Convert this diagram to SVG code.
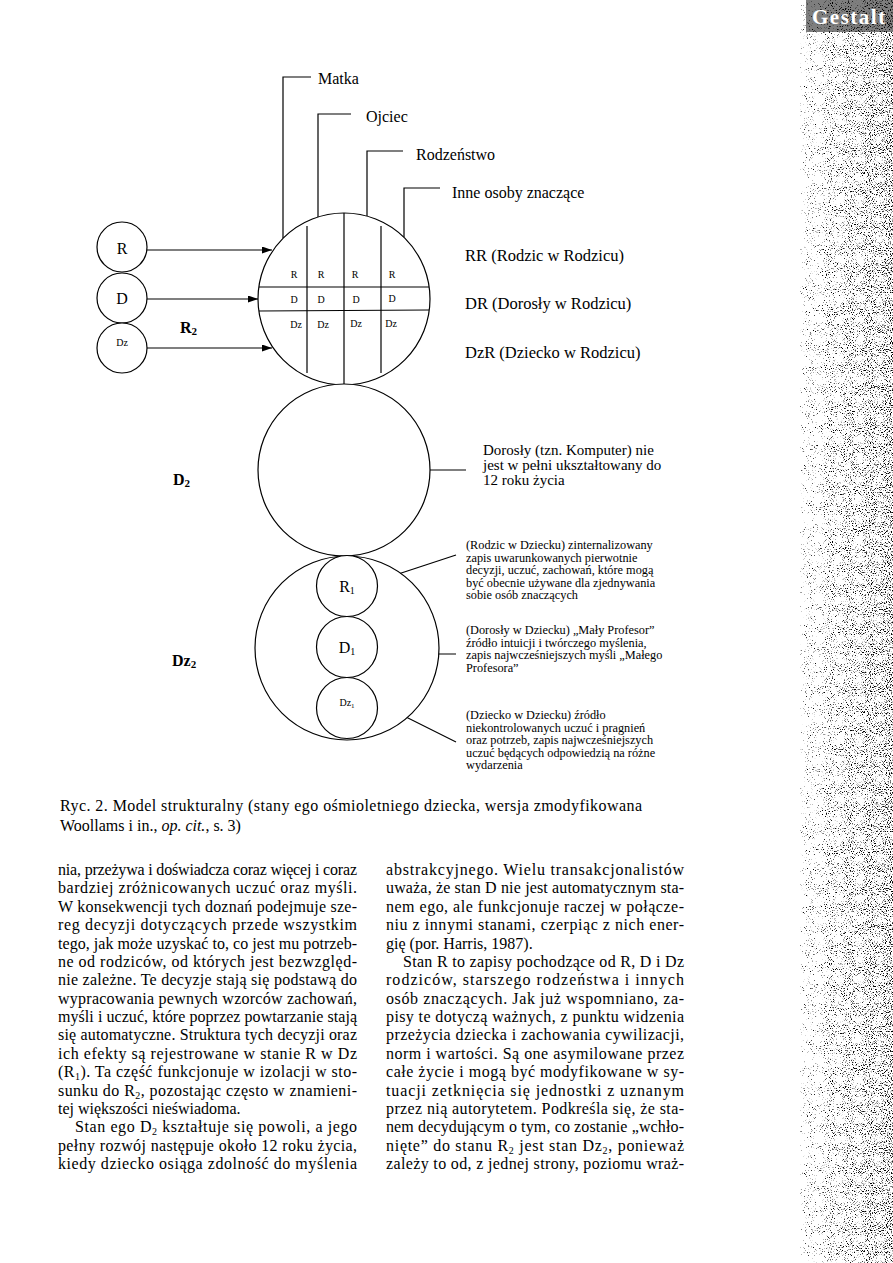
<svg xmlns="http://www.w3.org/2000/svg" width="893" height="1263" viewBox="0 0 893 1263">
<style>
.ln{stroke:#000;stroke-width:1.2;fill:none}
.c{stroke:#000;stroke-width:1.2;fill:#fff}
.t{font-family:"Liberation Serif","Times New Roman",serif;fill:#000}
.lab{font-size:16px}
.rl{font-size:16.5px}
.g{font-size:10px}
.ann{font-size:12.3px}
.d2t{font-size:15px}
.b{font-weight:bold;font-size:16px}
.body{font-size:16px}
.cap{font-size:16px}
</style>
<defs>
<marker id="ah" markerWidth="10" markerHeight="7" refX="10" refY="3.5" orient="auto" markerUnits="userSpaceOnUse">
<path d="M0,0 L10,3.5 L0,7 Z" fill="#000"/>
</marker>
<linearGradient id="stripG" x1="0" y1="0" x2="1" y2="0">
<stop offset="0" stop-color="#000" stop-opacity="0.33"/>
<stop offset="0.35" stop-color="#000" stop-opacity="0.41"/>
<stop offset="1" stop-color="#000" stop-opacity="0.47"/>
</linearGradient>
<filter id="speck" x="0" y="0" width="100%" height="100%" color-interpolation-filters="sRGB">
<feTurbulence type="fractalNoise" baseFrequency="0.95" numOctaves="2" seed="7" result="t"/>
<feColorMatrix in="t" type="matrix" values="0 0 0 0 0  0 0 0 0 0  0 0 0 0 0  1 0 0 0 0" result="n"/>
<feComposite in="SourceGraphic" in2="n" operator="arithmetic" k1="0" k2="6" k3="-6" k4="0"/>
</filter>
</defs>
<rect width="893" height="1263" fill="#fff"/>

<!-- scanned page edge strip -->
<g id="page-edge">
<rect x="800" y="0" width="93" height="1263" fill="url(#stripG)" filter="url(#speck)"/>
<rect x="806" y="0" width="87" height="32" fill="#000" opacity="0.5" filter="url(#speck)"/>
<text class="t" x="812" y="24" font-size="21" font-weight="bold" letter-spacing="1.5" style="fill:#fff">Gestalt</text>
</g>

<!-- connectors -->
<g id="connectors">
<path class="ln" d="M283,238 V77 H311"/>
<path class="ln" d="M318,217 V114 H351"/>
<path class="ln" d="M367,216 V151 H403"/>
<path class="ln" d="M404,237 V188 H440"/>
<line class="ln" x1="147" y1="250" x2="272" y2="250" marker-end="url(#ah)"/>
<line class="ln" x1="147" y1="299" x2="258" y2="299" marker-end="url(#ah)"/>
<line class="ln" x1="147" y1="348" x2="272" y2="348" marker-end="url(#ah)"/>
<line class="ln" x1="430" y1="470" x2="466" y2="470"/>
<line class="ln" x1="377" y1="581" x2="456" y2="555"/>
<line class="ln" x1="377" y1="654" x2="456" y2="654"/>
<line class="ln" x1="376" y1="702" x2="456" y2="742"/>
</g>

<!-- R2 : parent circle with grid -->
<g id="node-R2">
<circle class="c" cx="344" cy="299" r="86"/>
<line class="ln" x1="344" y1="213" x2="344" y2="385"/>
<line class="ln" x1="307" y1="226" x2="307" y2="373"/>
<line class="ln" x1="381" y1="226" x2="381" y2="373"/>
<line class="ln" x1="259" y1="287" x2="429" y2="287"/>
<line class="ln" x1="259" y1="311" x2="429" y2="310"/>
<g class="t g" text-anchor="middle">
<text x="294" y="278">R</text><text x="321" y="278">R</text><text x="355" y="278">R</text><text x="392" y="278">R</text>
<text x="294" y="303">D</text><text x="321" y="303">D</text><text x="356" y="303">D</text><text x="392" y="302">D</text>
<text x="296" y="328">Dz</text><text x="323" y="328">Dz</text><text x="356" y="327">Dz</text><text x="391" y="327">Dz</text>
</g>
<text class="t b" x="180" y="333">R<tspan font-size="11" dy="2">2</tspan></text>
</g>

<g id="node-R"><circle class="c" cx="122" cy="247" r="25"/><text class="t lab" x="122" y="254" text-anchor="middle">R</text></g>
<g id="node-D"><circle class="c" cx="122" cy="298" r="25"/><text class="t lab" x="122" y="304" text-anchor="middle">D</text></g>
<g id="node-Dz"><circle class="c" cx="122" cy="348" r="25"/><text class="t" font-size="10" x="122" y="346" text-anchor="middle">Dz</text></g>

<g id="labels-top" class="t lab">
<text x="318" y="84">Matka</text>
<text x="366" y="122">Ojciec</text>
<text x="416" y="160">Rodzeństwo</text>
<text x="452" y="198">Inne osoby znaczące</text>
</g>
<g id="labels-right" class="t rl">
<text x="465" y="261">RR (Rodzic w Rodzicu)</text>
<text x="465" y="309">DR (Dorosły w Rodzicu)</text>
<text x="465" y="358">DzR (Dziecko w Rodzicu)</text>
</g>

<!-- D2 -->
<g id="node-D2">
<circle class="c" cx="344" cy="470" r="86"/>
<text class="t b" x="173" y="485">D<tspan font-size="11" dy="2">2</tspan></text>
<g class="t d2t">
<text x="483" y="455">Dorosły (tzn. Komputer) nie</text>
<text x="483" y="470">jest w pełni ukształtowany do</text>
<text x="483" y="485">12 roku życia</text>
</g>
</g>

<!-- Dz2 -->
<g id="node-Dz2">
<circle class="c" cx="347" cy="648" r="92"/>
<text class="t b" x="172" y="666">Dz<tspan font-size="11" dy="2">2</tspan></text>
</g>
<g id="node-R1"><circle class="c" cx="347" cy="586" r="30.5"/><text class="t lab" x="347" y="592" text-anchor="middle">R<tspan font-size="10" dy="2">1</tspan></text></g>
<g id="node-D1"><circle class="c" cx="347" cy="647" r="30.5"/><text class="t lab" x="347" y="653" text-anchor="middle">D<tspan font-size="10" dy="2">1</tspan></text></g>
<g id="node-Dz1"><circle class="c" cx="347" cy="708" r="30.5"/><text class="t" font-size="10" x="347" y="706" text-anchor="middle">Dz<tspan font-size="7" dy="2">1</tspan></text></g>

<g id="annotations" class="t ann">
<text x="466" y="549">(Rodzic w Dziecku) zinternalizowany</text>
<text x="466" y="561.5">zapis uwarunkowanych pierwotnie</text>
<text x="466" y="574">decyzji, uczuć, zachowań, które mogą</text>
<text x="466" y="586.5">być obecnie używane dla zjednywania</text>
<text x="466" y="599">sobie osób znaczących</text>
<text x="466" y="634">(Dorosły w Dziecku) „Mały Profesor”</text>
<text x="466" y="646.5">źródło intuicji i twórczego myślenia,</text>
<text x="466" y="659">zapis najwcześniejszych myśli „Małego</text>
<text x="466" y="671.5">Profesora”</text>
<text x="466" y="719">(Dziecko w Dziecku) źródło</text>
<text x="466" y="731.5">niekontrolowanych uczuć i pragnień</text>
<text x="466" y="744">oraz potrzeb, zapis najwcześniejszych</text>
<text x="466" y="756.5">uczuć będących odpowiedzią na różne</text>
<text x="466" y="769">wydarzenia</text>
</g>

<g id="caption" class="t cap">
<text x="60" y="811" textLength="582" lengthAdjust="spacing">Ryc. 2. Model strukturalny (stany ego ośmioletniego dziecka, wersja zmodyfikowana</text>
<text x="60" y="831">Woollams i in., <tspan font-style="italic">op. cit.</tspan>, s. 3)</text>
</g>

<g id="body-left" class="t body">
<text x="58" y="875" textLength="299" lengthAdjust="spacing">nia, przeżywa i doświadcza coraz więcej i coraz</text>
<text x="58" y="893.4" textLength="299" lengthAdjust="spacing">bardziej zróżnicowanych uczuć oraz myśli.</text>
<text x="58" y="911.8" textLength="299" lengthAdjust="spacing">W konsekwencji tych doznań podejmuje sze-</text>
<text x="58" y="930.1" textLength="299" lengthAdjust="spacing">reg decyzji dotyczących przede wszystkim</text>
<text x="58" y="948.5" textLength="299" lengthAdjust="spacing">tego, jak może uzyskać to, co jest mu potrzeb-</text>
<text x="58" y="966.9" textLength="299" lengthAdjust="spacing">ne od rodziców, od których jest bezwzględ-</text>
<text x="58" y="985.3" textLength="299" lengthAdjust="spacing">nie zależne. Te decyzje stają się podstawą do</text>
<text x="58" y="1003.6" textLength="299" lengthAdjust="spacing">wypracowania pewnych wzorców zachowań,</text>
<text x="58" y="1022" textLength="299" lengthAdjust="spacing">myśli i uczuć, które poprzez powtarzanie stają</text>
<text x="58" y="1040.4" textLength="299" lengthAdjust="spacing">się automatyczne. Struktura tych decyzji oraz</text>
<text x="58" y="1058.8" textLength="299" lengthAdjust="spacing">ich efekty są rejestrowane w stanie R w Dz</text>
<text x="58" y="1077.1" textLength="299" lengthAdjust="spacing">(R<tspan font-size="10" dy="3">1</tspan><tspan dy="-3">). Ta część funkcjonuje w izolacji w sto-</tspan></text>
<text x="58" y="1095.5" textLength="299" lengthAdjust="spacing">sunku do R<tspan font-size="10" dy="3">2</tspan><tspan dy="-3">, pozostając często w znamieni-</tspan></text>
<text x="58" y="1113.9">tej większości nieświadoma.</text>
<text x="75" y="1132.3" textLength="282" lengthAdjust="spacing">Stan ego D<tspan font-size="10" dy="3">2</tspan><tspan dy="-3"> kształtuje się powoli, a jego</tspan></text>
<text x="58" y="1150.6" textLength="299" lengthAdjust="spacing">pełny rozwój następuje około 12 roku życia,</text>
<text x="58" y="1169" textLength="299" lengthAdjust="spacing">kiedy dziecko osiąga zdolność do myślenia</text>
</g>

<g id="body-right" class="t body">
<text x="386" y="875" textLength="298" lengthAdjust="spacing">abstrakcyjnego. Wielu transakcjonalistów</text>
<text x="386" y="893.4" textLength="298" lengthAdjust="spacing">uważa, że stan D nie jest automatycznym sta-</text>
<text x="386" y="911.8" textLength="298" lengthAdjust="spacing">nem ego, ale funkcjonuje raczej w połącze-</text>
<text x="386" y="930.1" textLength="298" lengthAdjust="spacing">niu z innymi stanami, czerpiąc z nich ener-</text>
<text x="386" y="948.5">gię (por. Harris, 1987).</text>
<text x="403" y="966.9" textLength="281" lengthAdjust="spacing">Stan R to zapisy pochodzące od R, D i Dz</text>
<text x="386" y="985.3" textLength="298" lengthAdjust="spacing">rodziców, starszego rodzeństwa i innych</text>
<text x="386" y="1003.6" textLength="298" lengthAdjust="spacing">osób znaczących. Jak już wspomniano, za-</text>
<text x="386" y="1022" textLength="298" lengthAdjust="spacing">pisy te dotyczą ważnych, z punktu widzenia</text>
<text x="386" y="1040.4" textLength="298" lengthAdjust="spacing">przeżycia dziecka i zachowania cywilizacji,</text>
<text x="386" y="1058.8" textLength="298" lengthAdjust="spacing">norm i wartości. Są one asymilowane przez</text>
<text x="386" y="1077.1" textLength="298" lengthAdjust="spacing">całe życie i mogą być modyfikowane w sy-</text>
<text x="386" y="1095.5" textLength="298" lengthAdjust="spacing">tuacji zetknięcia się jednostki z uznanym</text>
<text x="386" y="1113.9" textLength="298" lengthAdjust="spacing">przez nią autorytetem. Podkreśla się, że sta-</text>
<text x="386" y="1132.3" textLength="298" lengthAdjust="spacing">nem decydującym o tym, co zostanie „wchło-</text>
<text x="386" y="1150.6" textLength="298" lengthAdjust="spacing">nięte” do stanu R<tspan font-size="10" dy="3">2</tspan><tspan dy="-3"> jest stan Dz</tspan><tspan font-size="10" dy="3">2</tspan><tspan dy="-3">, ponieważ</tspan></text>
<text x="386" y="1169" textLength="298" lengthAdjust="spacing">zależy to od, z jednej strony, poziomu wraż-</text>
</g>
</svg>
